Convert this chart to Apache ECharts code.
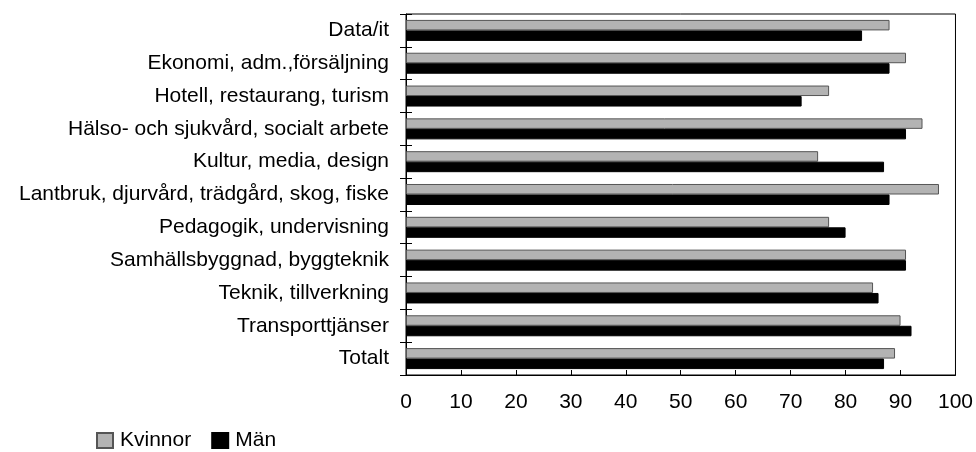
<!DOCTYPE html>
<html><head><meta charset="utf-8">
<script src="https://cdn.jsdelivr.net/npm/echarts@6/dist/echarts.min.js"></script>
<style>html,body{margin:0;padding:0;background:#fff}#c{width:976px;height:452px}</style>
</head><body><div id="c"></div>
<script>
const categories = ["Data/it","Ekonomi, adm.,försäljning","Hotell, restaurang, turism","Hälso- och sjukvård, socialt arbete","Kultur, media, design","Lantbruk, djurvård, trädgård, skog, fiske","Pedagogik, undervisning","Samhällsbyggnad, byggteknik","Teknik, tillverkning","Transporttjänser","Totalt"];
const kvinnor = [88,91,77,94,75,97,77,91,85,90,89];
const man = [83,88,72,91,87,88,80,91,86,92,87];
const seriesNames = ["Kvinnor","Män"];
const font = "Liberation Sans, Arial, sans-serif";
const chart = echarts.init(document.getElementById('c'));
chart.setOption({
  animation:false,
  grid:{left:406,right:19,top:14,bottom:77,show:true,borderColor:'#000',borderWidth:1},
  legend:{left:91,top:425,itemWidth:16,itemHeight:15,itemGap:20,icon:'rect',
    textStyle:{fontFamily:font,fontSize:21,color:'#000',padding:[0,0,0,2]},
    data:seriesNames},
  xAxis:{type:'value',min:0,max:100,interval:10,
    axisLine:{show:true,lineStyle:{color:'#000'}},
    axisTick:{show:true,inside:true,length:5,lineStyle:{color:'#000'}},
    splitLine:{show:false},
    axisLabel:{fontFamily:font,fontSize:21,color:'#000',margin:17}},
  yAxis:[
    {type:'category',data:categories,inverse:true,
    axisLine:{show:true,lineStyle:{color:'#000'}},
    axisTick:{show:true,length:6,lineStyle:{color:'#000'}},
    axisLabel:{fontFamily:font,fontSize:21,color:'#000',margin:17}},
    {type:'category',data:categories,inverse:true,position:'left',
    axisLine:{show:false},
    axisTick:{show:true,inside:true,length:6,lineStyle:{color:'#000'}},
    axisLabel:{show:false}}
  ],
  series:[
    {name:seriesNames[0],type:'bar',data:kvinnor,barGap:'0%',barCategoryGap:'36%',
     itemStyle:{color:'#b3b3b3',borderColor:'#555',borderWidth:1}},
    {name:seriesNames[1],type:'bar',data:man,barGap:'0%',barCategoryGap:'36%',
     itemStyle:{color:'#000',borderColor:'#000',borderWidth:1}}
  ]
});
</script></body></html>
